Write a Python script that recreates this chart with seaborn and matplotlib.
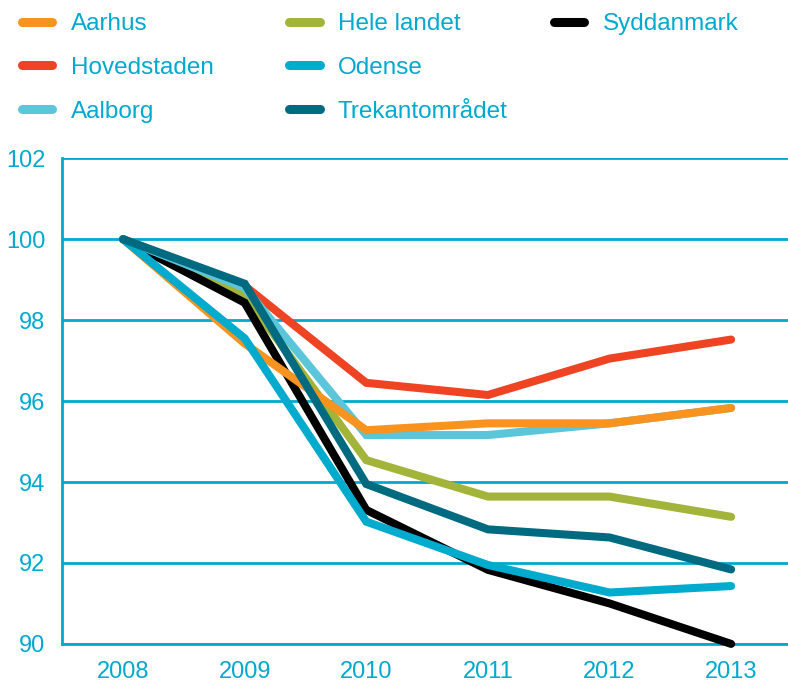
import pandas as pd
import seaborn as sns
import matplotlib.pyplot as plt
from matplotlib.lines import Line2D

sns.set_style('white')
plt.rcParams['font.family'] = ['Liberation Sans', 'DejaVu Sans']
plt.rcParams['font.size'] = 17

years = [2008, 2009, 2010, 2011, 2012, 2013]
aarhus = [100, 97.42, 95.28, 95.45, 95.45, 95.83]
hovedstaden = [100, 98.85, 96.45, 96.15, 97.05, 97.52]
aalborg = [100, 98.8, 95.16, 95.16, 95.45, 95.83]
hele_landet = [100, 98.62, 94.54, 93.64, 93.64, 93.14]
odense = [100, 97.55, 93.02, 91.95, 91.27, 91.43]
trekant = [100, 98.9, 93.95, 92.83, 92.63, 91.84]
syddanmark = [100, 98.43, 93.31, 91.83, 91.0, 90.0]

series = {
    'Aarhus': aarhus,
    'Hovedstaden': hovedstaden,
    'Aalborg': aalborg,
    'Hele landet': hele_landet,
    'Odense': odense,
    'Trekantområdet': trekant,
    'Syddanmark': syddanmark,
}
palette = {
    'Aarhus': '#F7931E',
    'Hovedstaden': '#EE4423',
    'Aalborg': '#5BC5DA',
    'Hele landet': '#A2B43A',
    'Odense': '#00ABCD',
    'Trekantområdet': '#006A80',
    'Syddanmark': '#000000',
}
# bottom -> top drawing order
draw_order = ['Hele landet', 'Syddanmark', 'Hovedstaden', 'Aalborg',
              'Aarhus', 'Odense', 'Trekantområdet']
# legend columns
legend_cols = [['Aarhus', 'Hovedstaden', 'Aalborg'],
               ['Hele landet', 'Odense', 'Trekantområdet'],
               ['Syddanmark']]

rows = []
for name, vals in series.items():
    for yr, v in zip(years, vals):
        rows.append([name, yr, v])
df = pd.DataFrame(rows, columns=['region', 'year', 'index'])

cyan = '#00A9CE'

fig = plt.figure(figsize=(7.88, 6.85), dpi=100)
ax = fig.add_axes([0.079, 0.06, 0.926, 0.709])

for name in draw_order:
    sns.lineplot(data=df[df['region'] == name], x='year', y='index',
                 color=palette[name], lw=5.8, ax=ax, legend=False,
                 solid_capstyle='round', solid_joinstyle='miter',
                 clip_on=False, zorder=3)

ax.set_xlim(years[0] - 0.5, years[-1] + 0.5)
ax.set_ylim(90, 102)
ax.set_yticks(range(90, 103, 2))
ax.set_xticks(years)
ax.set_xticks([y + 0.5 for y in years[:-1]], minor=True)
ax.grid(axis='y', color=cyan, lw=2, zorder=1)
ax.set_axisbelow(True)
for s in ['top', 'right']:
    ax.spines[s].set_visible(False)
for s in ['left', 'bottom']:
    ax.spines[s].set_color(cyan)
    ax.spines[s].set_linewidth(2)
ax.tick_params(axis='x', which='major', length=0, pad=12, labelcolor=cyan, labelsize=17)
ax.tick_params(axis='x', which='minor', length=7, width=2, color=cyan)
ax.tick_params(axis='y', length=6, width=2, color=cyan, pad=6, labelcolor=cyan, labelsize=17)
ax.set_xlabel('')
ax.set_ylabel('')

col_x = [0.028, 0.367, 0.703]
for cx, names in zip(col_x, legend_cols):
    handles = [Line2D([], [], color=palette[n], lw=6.5, solid_capstyle='round')
               for n in names]
    leg = fig.legend(handles, names, loc='upper left', bbox_to_anchor=(cx, 0.981),
                     frameon=False, borderpad=0, borderaxespad=0,
                     handlelength=1.25, handletextpad=0.75, labelspacing=0.9,
                     fontsize=17.5)
    for t in leg.get_texts():
        t.set_color(cyan)

fig.savefig('out.png', dpi=100)
